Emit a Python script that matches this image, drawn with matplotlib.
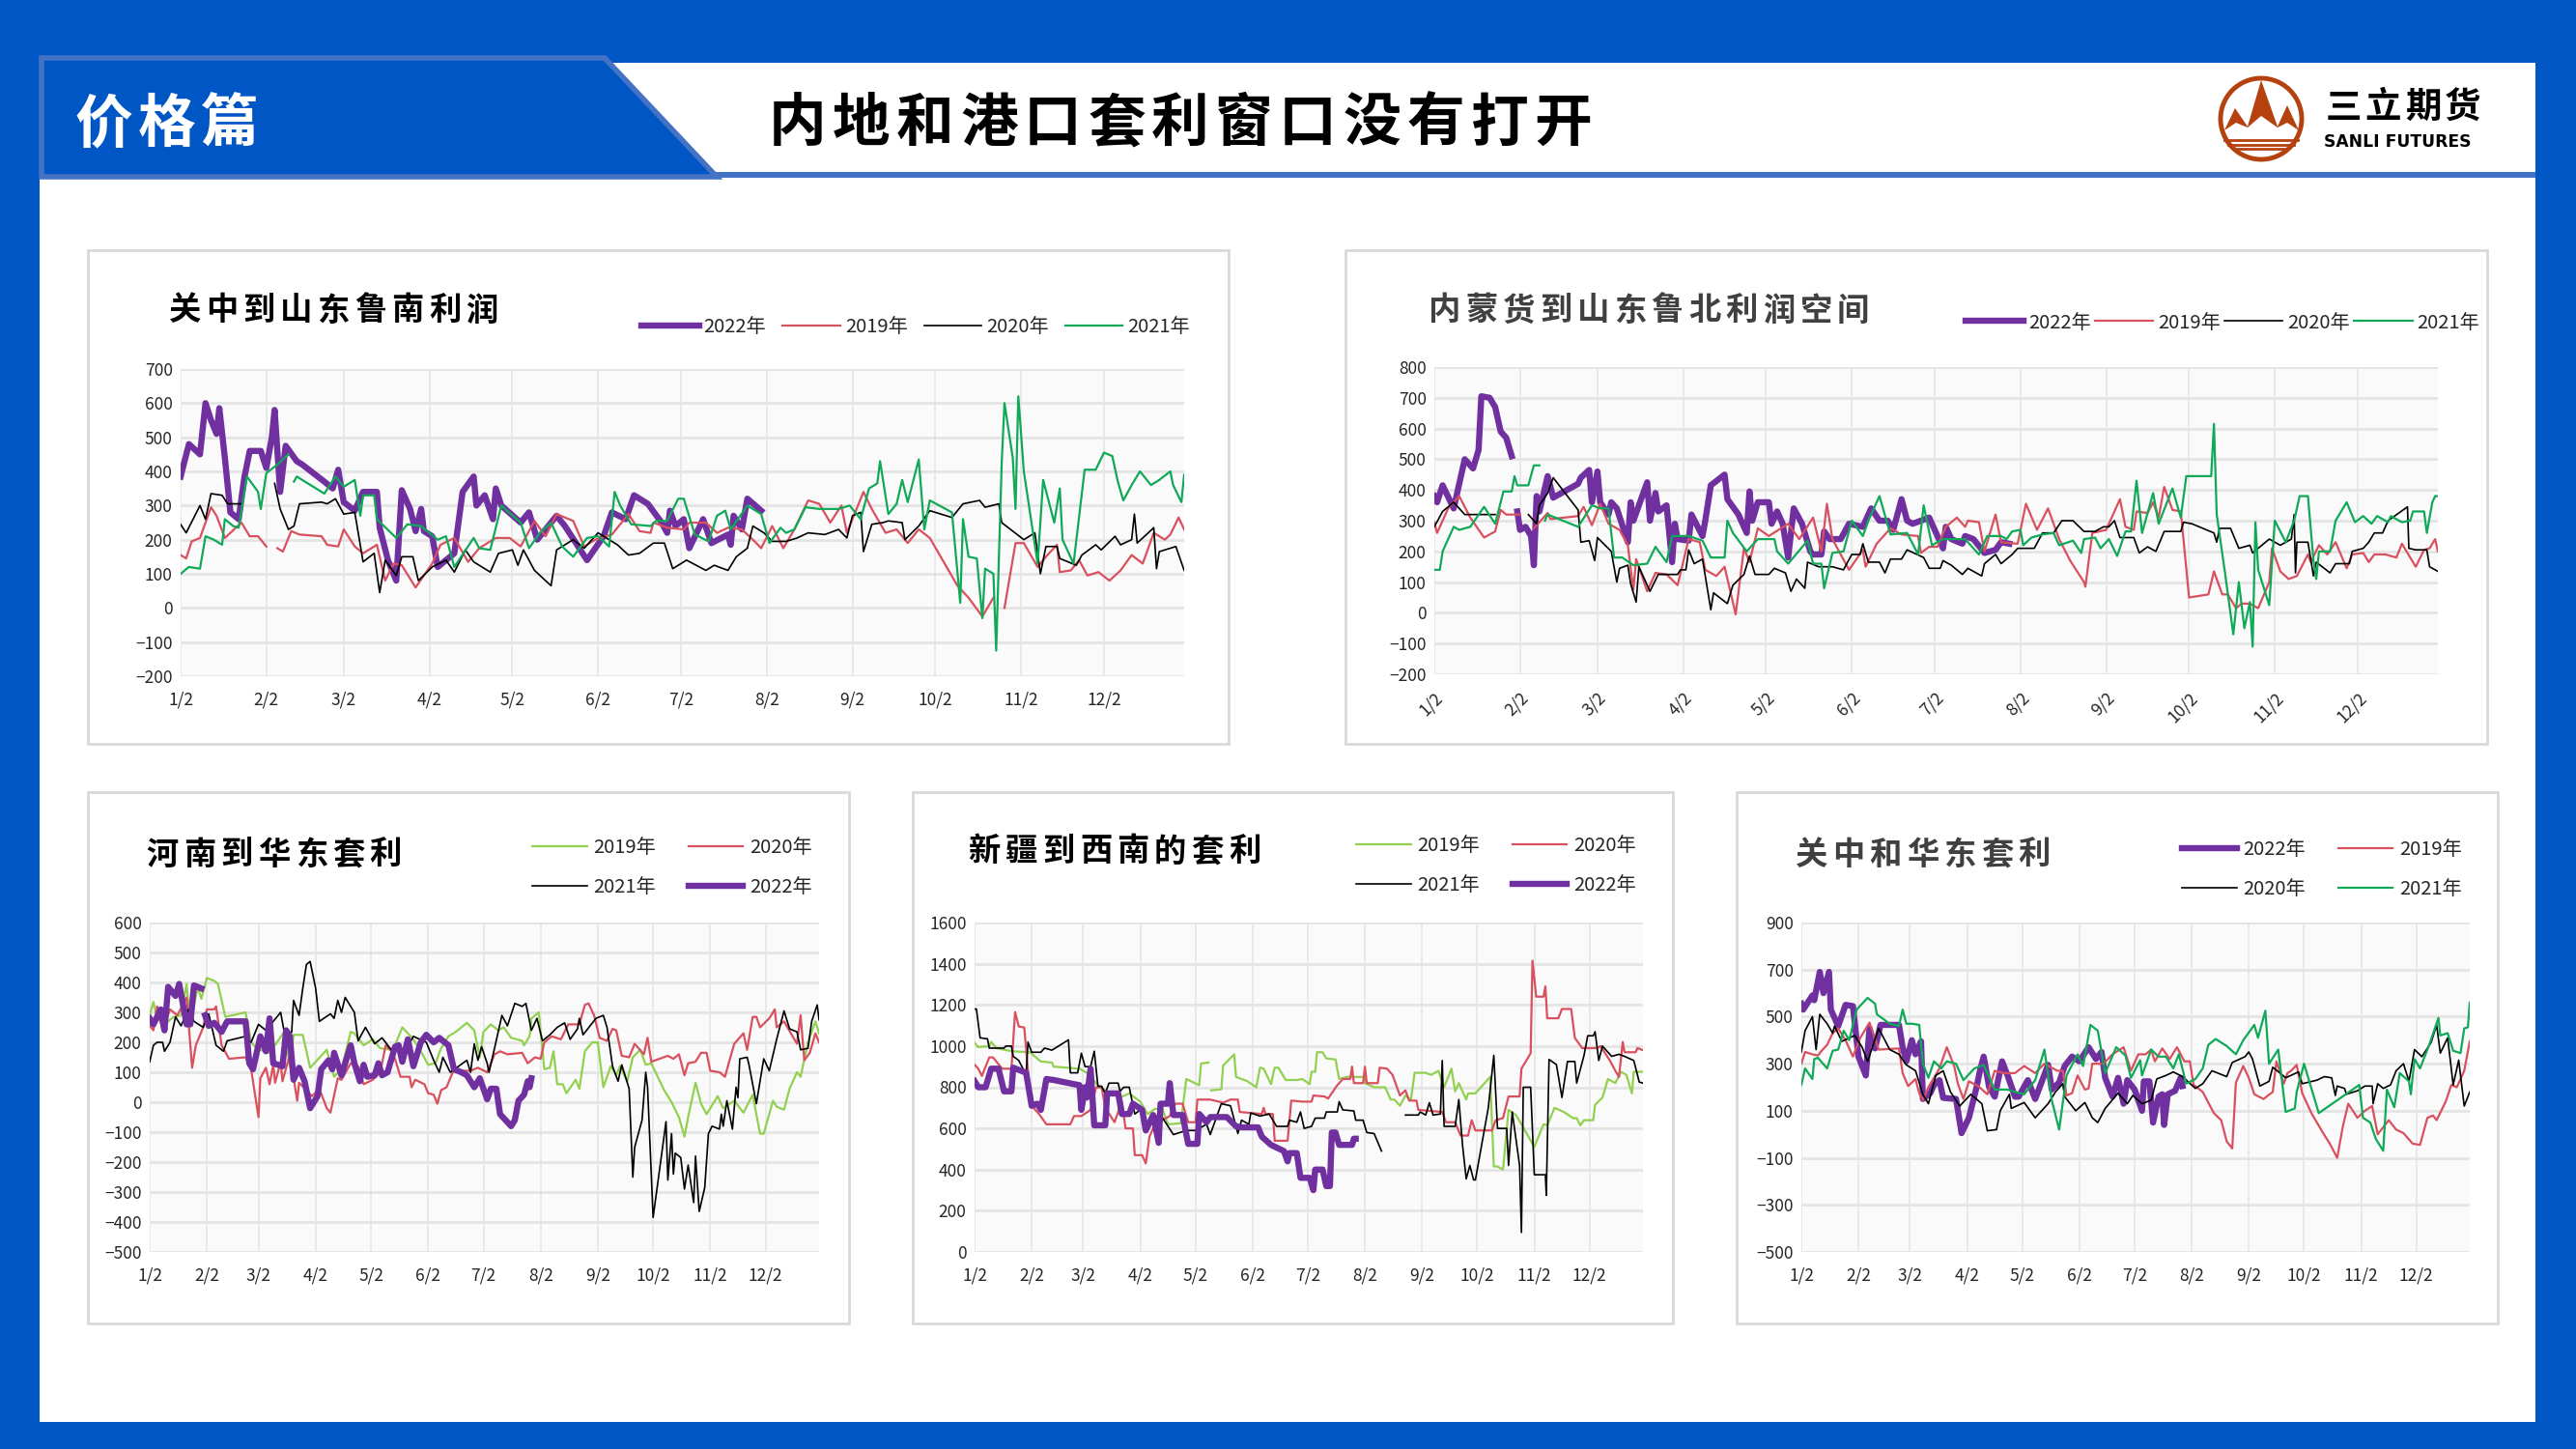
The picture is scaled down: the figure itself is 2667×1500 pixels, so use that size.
import numpy as np
import matplotlib
matplotlib.use("Agg")
import matplotlib.pyplot as plt
from matplotlib.patches import Rectangle, Polygon, Circle

plt.rcParams['font.family'] = ['Noto Sans CJK SC', 'DejaVu Sans']

nan = float('nan')
W, H = 2667, 1500

# month ticks, x is days after 1/2
tick_days = [0, 31, 59, 90, 120, 151, 181, 212, 243, 273, 304, 334]
tick_labels = ['1/2', '2/2', '3/2', '4/2', '5/2', '6/2', '7/2', '8/2', '9/2', '10/2', '11/2', '12/2']

# panel 1 - guanzhong to shandong
p1_2022 = [(0,385),(3,480),(7,450),(9,600),(11,550),(13,510),(14,585),(16,440),(18,280),(21,260),(23,380),(25,460),(29,460),(31,410),(33,500),(34,580),(36,340),(38,475),(42,430),(44,420),(52,370),(55,350),(57,405),(59,310),(63,285),(66,340),(71,340),(72,235),(75,140),(78,80),(80,345),(83,290),(85,225),(87,290),(88,225),(91,210),(93,120),(96,140),(99,160),(102,340),(106,385),(107,300),(110,330),(113,260),(114,350),(116,300),(123,250),(126,280),(129,200),(136,270),(139,240),(147,140),(153,210),(156,280),(161,260),(164,330),(169,305),(174,250),(176,220),(177,285),(179,240),(182,260),(184,175),(189,260),(192,190),(198,215),(199,185),(200,270),(203,230),(205,320),(210,285)]
p1_2019 = [(0,155),(2,145),(4,195),(7,205),(11,295),(13,270),(16,205),(22,250),(25,210),(28,210),(31,180),(33,nan),(35,175),(37,165),(40,225),(43,215),(51,210),(53,185),(57,180),(59,230),(63,180),(66,160),(71,185),(74,80),(77,130),(80,125),(85,60),(91,130),(94,185),(99,205),(104,135),(108,175),(114,205),(119,205),(123,180),(128,255),(132,210),(136,275),(142,255),(146,180),(150,200),(156,215),(162,275),(166,225),(170,220),(171,250),(176,235),(182,230),(184,250),(190,250),(194,220),(198,235),(203,230),(207,200),(210,175),(214,240),(218,175),(222,230),(227,315),(231,305),(235,250),(239,300),(241,220),(247,340),(250,290),(255,220),(259,230),(263,190),(267,230),(271,205),(281,65),(285,30),(290,-25),(294,30),(296,nan),(298,0),(302,190),(305,190),(310,120),(313,150),(317,185),(318,105),(322,110),(325,140),(328,95),(332,105),(336,80),(340,110),(344,155),(348,130),(352,220),(356,200),(358,215),(361,265),(363,230)]
p1_2020 = [(0,245),(2,220),(7,300),(9,260),(11,335),(15,330),(17,305),(22,305),(24,nan),(34,365),(36,290),(39,230),(41,240),(43,305),(51,310),(53,305),(56,320),(59,275),(63,280),(66,135),(70,160),(72,45),(74,140),(78,95),(80,150),(84,150),(86,80),(91,120),(96,140),(99,105),(103,170),(106,135),(112,105),(115,160),(120,170),(122,125),(124,170),(128,110),(134,65),(136,170),(142,200),(146,175),(151,220),(158,185),(162,155),(166,160),(171,190),(175,190),(178,115),(183,140),(190,110),(193,125),(198,110),(201,150),(205,175),(207,240),(211,220),(214,195),(219,195),(223,205),(227,220),(233,215),(238,230),(241,205),(243,270),(246,280),(247,165),(250,245),(254,250),(256,255),(261,250),(262,200),(267,240),(271,285),(279,265),(283,305),(289,315),(291,295),(296,305),(297,250),(305,200),(309,220),(311,100),(313,180),(317,180),(318,145),(324,125),(326,155),(331,185),(333,170),(338,210),(340,185),(344,200),(345,275),(346,190),(352,235),(353,115),(354,165),(360,180),(363,110)]
p1_2021 = [(0,100),(3,120),(7,115),(9,210),(12,200),(15,185),(16,260),(19,240),(21,235),(24,385),(28,340),(29,290),(31,395),(35,420),(39,450),(40,nan),(41,370),(42,385),(52,335),(56,385),(59,355),(63,375),(65,270),(66,330),(70,330),(71,260),(78,205),(82,245),(87,240),(93,200),(96,210),(99,120),(106,205),(108,175),(112,170),(116,300),(123,250),(126,175),(130,220),(134,250),(138,180),(142,150),(147,205),(151,210),(155,180),(157,340),(159,300),(163,245),(170,240),(172,255),(176,255),(180,320),(182,320),(186,215),(191,195),(194,270),(197,285),(199,230),(205,300),(210,275),(213,190),(217,235),(219,220),(222,230),(226,295),(231,290),(238,290),(242,300),(246,260),(249,350),(252,365),(253,430),(256,275),(259,305),(261,375),(263,310),(267,435),(269,230),(271,315),(279,280),(282,15),(283,260),(285,150),(288,145),(290,-30),(291,115),(294,100),(295,-125),(297,425),(298,600),(301,440),(302,290),(303,620),(305,400),(310,130),(312,375),(316,250),(318,350),(319,200),(323,130),(327,405),(331,405),(334,455),(337,445),(339,370),(341,315),(344,360),(347,400),(351,360),(354,375),(358,400),(359,360),(362,310),(363,390)]

# panel 2 - inner mongolia to shandong
p2_2022 = [(0,380),(1,360),(3,415),(7,340),(11,500),(14,470),(16,530),(17,705),(20,700),(22,670),(24,590),(26,570),(28,510),(29,nan),(30,330),(31,270),(33,280),(35,250),(36,155),(37,380),(38,330),(41,445),(43,375),(52,420),(53,440),(56,465),(57,360),(59,460),(60,360),(63,320),(64,360),(66,340),(70,230),(71,360),(72,300),(77,425),(78,300),(80,390),(81,330),(84,350),(86,165),(87,290),(88,240),(92,235),(93,320),(97,250),(98,300),(100,415),(105,450),(106,370),(110,320),(113,260),(114,395),(115,300),(117,360),(121,360),(122,290),(124,330),(126,290),(128,180),(130,340),(133,290),(136,200),(137,190),(140,190),(141,265),(143,240),(147,240),(150,290),(155,280),(158,340),(161,300),(164,300),(166,270),(169,370),(171,300),(173,290),(179,310),(181,270),(184,210),(185,280),(187,240),(191,225),(192,250),(195,240),(199,195),(203,205),(205,230),(208,225)]
p2_2019 = [(0,295),(1,260),(5,340),(9,380),(13,310),(18,245),(22,265),(24,335),(26,320),(31,320),(33,nan),(36,275),(41,325),(42,305),(52,315),(54,345),(57,285),(60,355),(63,290),(67,270),(70,220),(72,75),(73,175),(77,70),(80,130),(84,125),(88,90),(92,240),(96,230),(98,140),(102,120),(105,150),(109,-5),(112,210),(114,165),(117,275),(121,250),(128,290),(132,240),(137,310),(140,200),(142,355),(144,240),(150,140),(155,205),(156,150),(160,225),(165,275),(169,255),(175,250),(176,195),(179,215),(182,215),(185,280),(189,310),(192,280),(193,300),(197,295),(199,200),(203,320),(205,230),(211,225),(214,355),(218,270),(222,340),(226,240),(230,170),(235,100),(235.5,85),(238,260),(243,270),(248,370),(250,280),(253,270),(254,330),(258,325),(260,360),(262,310),(264,410),(267,335),(270,330),(273,50),(280,60),(282,135),(285,60),(287,60),(290,15),(292,30),(295,30),(298,15),(302,100),(303,210),(306,135),(309,110),(312,120),(316,190),(317,165),(320,220),(323,190),(326,230),(330,145),(332,190),(336,195),(338,165),(340,190),(344,190),(348,180),(350,225),(355,150),(358,205),(360,210),(362,240),(363,200)]
p2_2020 = [(0,280),(3,330),(7,360),(11,320),(22,320),(24,nan),(34,320),(37,290),(38,350),(41,390),(43,440),(52,335),(53,230),(56,235),(58,170),(59,245),(64,200),(66,100),(67,145),(70,155),(71,95),(73,35),(74,150),(78,70),(81,125),(88,125),(89,140),(91,140),(92,205),(94,160),(97,175),(100,10),(101,65),(106,30),(108,90),(112,125),(114,185),(116,125),(121,125),(123,145),(127,130),(129,70),(131,110),(134,80),(135,165),(139,150),(141,150),(144,150),(148,140),(151,190),(154,190),(155,225),(157,165),(161,165),(163,130),(165,175),(169,175),(171,205),(177,180),(179,145),(183,145),(184,170),(187,155),(191,125),(193,145),(198,120),(199,160),(203,190),(205,160),(209,190),(211,210),(217,210),(220,260),(224,260),(227,300),(231,300),(235,265),(239,265),(242,280),(244,280),(246,300),(248,245),(253,245),(255,195),(258,215),(261,200),(264,265),(270,265),(271,295),(274,290),(282,260),(283,230),(284,275),(288,275),(291,210),(295,220),(296,195),(302,240),(306,220),(310,240),(311,320),(311.5,130),(312,230),(316,230),(318,120),(319,165),(324,130),(326,160),(331,160),(332,200),(336,210),(338,230),(340,260),(343,260),(345,300),(352,345),(352.5,210),(355,205),(359,205),(360,150),(363,135)]
p2_2021 = [(0,140),(2,140),(3,200),(7,280),(9,270),(13,280),(18,345),(22,290),(25,395),(28,395),(29,445),(30,415),(34,415),(36,480),(38,480),(39,nan),(40,300),(41,320),(52,280),(57,350),(60,340),(63,340),(65,180),(68,180),(72,155),(77,160),(80,215),(84,165),(86,250),(92,250),(97,235),(100,180),(105,180),(106,300),(108,260),(113,200),(117,240),(123,240),(124,200),(128,160),(135,235),(137,160),(140,160),(141,80),(144,195),(148,200),(151,300),(155,250),(157,300),(161,380),(165,255),(171,260),(175,190),(177,350),(180,220),(184,240),(192,240),(197,190),(200,250),(205,250),(207,240),(209,265),(212,270),(213,220),(216,245),(220,255),(224,260),(226,220),(231,235),(234,195),(235,240),(239,245),(241,210),(244,240),(247,185),(250,265),(252,265),(254,430),(256,260),(260,390),(262,290),(267,405),(270,310),(272,445),(281,445),(282,615),(283,320),(286,130),(289,-70),(291,100),(293,-50),(295,35),(296,-110),(297,295),(298,140),(302,25),(304,300),(308,230),(311,300),(313,380),(316,380),(318,170),(319,110),(320,200),(324,200),(326,300),(330,360),(333,295),(336,315),(339,290),(341,315),(345,295),(346,315),(350,295),(353,300),(354,330),(358,330),(359,260),(361,360),(362,380),(363,380)]

# panel 3 - henan to east china
p3_2019 = [(0,290),(2,335),(4,280),(8,260),(13,285),(17,290),(20,395),(22,260),(26,385),(28,345),(31,415),(35,405),(37,395),(41,285),(52,300),(55,200),(58,180),(62,170),(65,165),(69,200),(73,235),(76,120),(78,225),(83,225),(87,115),(90,135),(96,175),(100,85),(104,110),(109,235),(111,230),(116,190),(121,210),(125,180),(132,175),(137,250),(143,210),(147,170),(151,125),(155,130),(158,180),(162,220),(166,235),(172,265),(176,240),(179,150),(181,235),(185,260),(189,240),(192,250),(196,215),(202,205),(203,190),(206,220),(207,280),(211,300),(214,110),(217,115),(219,170),(221,60),(224,60),(226,30),(231,75),(233,45),(236,170),(240,200),(243,200),(244,150),(246,50),(250,120),(253,90),(255,120),(259,70),(262,150),(266,175),(269,125),(272,130),(279,40),(283,0),(287,-50),(290,-115),(292,-50),(296,65),(299,-5),(302,-40),(308,20),(311,-20),(317,5),(322,-35),(327,25),(331,-105),(333,-105),(338,5),(340,-15),(344,-25),(347,45),(351,100),(353,85),(357,200),(361,270),(363,230)]
p3_2020 = [(0,255),(2,240),(4,320),(7,240),(11,310),(15,290),(20,350),(23,115),(25,190),(29,250),(31,310),(35,310),(36,320),(39,190),(43,145),(52,150),(55,110),(59,-50),(60,80),(63,115),(65,60),(67,125),(68,65),(71,135),(72,70),(76,160),(80,5),(81,65),(85,40),(88,20),(92,45),(96,-20),(98,-35),(102,80),(104,75),(109,130),(113,120),(116,60),(121,75),(125,100),(128,190),(132,165),(136,85),(141,85),(142,50),(144,75),(149,60),(151,30),(154,25),(156,-5),(158,40),(161,50),(165,110),(169,105),(174,105),(178,115),(183,100),(187,160),(190,170),(194,160),(202,165),(205,130),(209,150),(212,145),(214,200),(218,220),(223,210),(227,260),(233,260),(236,325),(238,330),(241,290),(244,215),(248,205),(251,245),(253,240),(256,155),(260,150),(263,195),(268,160),(270,215),(272,135),(281,155),(284,145),(287,160),(290,90),(292,130),(296,135),(299,165),(302,165),(304,105),(309,100),(312,85),(314,130),(317,195),(322,230),(324,175),(327,285),(329,285),(331,250),(336,280),(339,310),(340,250),(344,270),(351,195),(353,290),(355,140),(358,165),(361,230),(363,200)]
p3_2021 = [(0,135),(2,190),(4,200),(7,200),(8,170),(11,200),(14,285),(17,255),(21,310),(24,270),(29,250),(32,295),(36,190),(40,170),(42,205),(52,220),(55,200),(59,260),(63,240),(67,270),(71,300),(74,200),(77,235),(78,340),(81,290),(83,380),(85,460),(87,470),(90,380),(92,270),(98,295),(100,280),(102,340),(104,300),(106,350),(111,300),(113,205),(117,250),(122,195),(126,215),(131,175),(139,175),(143,220),(150,200),(154,140),(157,100),(159,150),(163,100),(172,140),(174,100),(176,195),(178,140),(180,185),(183,130),(184,100),(187,180),(191,290),(194,255),(198,330),(202,320),(204,330),(207,240),(210,280),(213,205),(217,225),(221,250),(225,265),(228,210),(232,245),(233,280),(235,225),(242,280),(246,290),(248,250),(251,120),(254,70),(256,125),(260,45),(262,-250),(263,-150),(267,-60),(269,100),(270,50),(273,-385),(280,-65),(281,-260),(283,-105),(284,-240),(285,-170),(288,-185),(290,-290),(292,-210),(295,-335),(296,-180),(298,-365),(301,-285),(303,-105),(305,-80),(309,-90),(310,-40),(311,-80),(313,5),(316,-90),(318,50),(319,15),(320,145),(324,150),(325,125),(329,-5),(333,145),(336,105),(340,210),(344,305),(347,245),(351,235),(353,175),(357,180),(359,270),(362,325),(363,275)]
p3_2022 = [(0,280),(2,260),(6,310),(8,240),(10,385),(14,355),(16,395),(20,260),(22,260),(24,390),(28,380),(29,nan),(30,290),(32,255),(35,265),(39,235),(42,270),(52,270),(54,130),(56,110),(60,220),(63,170),(65,280),(67,130),(72,120),(74,240),(76,220),(78,75),(81,115),(84,70),(87,-20),(91,20),(93,110),(97,140),(99,110),(100,165),(104,90),(109,190),(111,130),(114,70),(116,125),(118,85),(122,90),(124,130),(126,90),(129,100),(133,185),(135,190),(137,135),(140,210),(143,120),(147,200),(150,225),(154,200),(157,215),(162,190),(165,110),(169,100),(172,90),(176,50),(179,80),(183,10),(185,45),(188,45),(190,-40),(196,-80),(198,-60),(200,5),(203,25),(205,70),(206,50),(207,80)]

# panel 4 - xinjiang to southwest
p4_2019 = [(0,1015),(2,995),(8,1000),(9,1020),(12,990),(20,975),(30,970),(36,925),(42,920),(43,900),(57,890),(61,870),(68,800),(72,780),(79,750),(84,770),(90,730),(94,670),(98,695),(102,695),(105,620),(112,625),(115,840),(122,810),(123,915),(127,920),(128,nan),(128.5,785),(134,790),(135,905),(141,960),(142,850),(148,830),(153,800),(155,895),(157,890),(161,815),(163,895),(165,895),(169,835),(175,835),(178,840),(182,815),(183,875),(185,875),(186,970),(189,970),(191,940),(196,935),(198,840),(202,850),(212,850),(212,820),(217,800),(223,800),(226,740),(228,740),(231,710),(234,760),(237,740),(239,870),(245,870),(248,860),(252,880),(255,800),(259,890),(261,780),(263,820),(267,740),(268,770),(272,770),(280,850),(282,415),(284,415),(287,400),(290,690),(294,665),(297,620),(304,510),(309,620),(311,615),(315,700),(320,680),(325,650),(327,650),(329,615),(331,640),(336,640),(337,715),(341,750),(344,840),(348,820),(351,875),(354,860),(357,770),(358,875),(363,875)]
p4_2020 = [(0,910),(2,890),(4,855),(8,945),(10,945),(15,890),(20,890),(22,1165),(24,1095),(27,1090),(29,880),(30,720),(35,670),(39,620),(52,620),(54,660),(58,660),(63,690),(66,800),(69,800),(71,700),(76,630),(80,730),(82,600),(86,600),(87,470),(91,470),(93,430),(95,560),(98,620),(106,660),(109,720),(113,720),(116,630),(120,630),(121,740),(128,740),(135,725),(139,740),(143,740),(144,680),(150,675),(156,670),(157,700),(158,670),(162,670),(163,540),(170,540),(172,735),(178,730),(183,730),(184,760),(190,755),(192,745),(197,810),(200,840),(204,840),(205,900),(206,820),(211,820),(212,900),(213,820),(219,820),(220,895),(224,890),(227,860),(231,760),(234,785),(236,735),(240,735),(241,690),(254,680),(256,630),(261,630),(264,565),(268,565),(270,640),(272,590),(281,590),(283,640),(287,650),(290,755),(296,755),(297,890),(302,965),(303,1415),(305,1240),(309,1240),(310,1290),(311,1135),(317,1135),(319,1180),(324,1180),(326,1040),(330,990),(338,990),(340,1000),(345,930),(348,880),(350,850),(352,1020),(353,970),(359,970),(360,990),(363,980)]
p4_2021 = [(0,1180),(1,1180),(3,1040),(7,1035),(8,990),(16,990),(17,1000),(20,1000),(21,950),(24,930),(28,860),(29,1020),(31,970),(36,970),(38,990),(42,980),(51,1030),(52,870),(56,870),(58,965),(60,900),(63,900),(65,975),(67,805),(69,805),(71,770),(73,820),(78,820),(79,780),(81,800),(84,800),(87,670),(90,690),(94,620),(98,625),(100,680),(104,625),(108,570),(115,590),(120,590),(126,620),(128,570),(134,720),(139,710),(143,575),(145,640),(149,620),(150,675),(155,660),(160,670),(164,610),(170,610),(171,640),(175,630),(177,680),(179,600),(183,610),(185,650),(190,650),(191,680),(197,680),(198,730),(200,690),(206,685),(207,640),(211,640),(213,580),(217,575),(221,490),(222,nan),(234,665),(241,665),(242,680),(245,665),(247,725),(249,665),(253,670),(254,930),(255,610),(261,610),(263,740),(265,520),(267,355),(269,420),(271,350),(272,350),(279,700),(282,955),(284,600),(289,600),(290,420),(292,680),(294,550),(296,420),(297,95),(298,800),(302,800),(304,375),(310,375),(310.5,275),(312,935),(316,910),(319,750),(322,925),(326,925),(327,820),(331,955),(333,1050),(336,1050),(337,1070),(339,930),(341,1000),(344,970),(346,950),(350,960),(353,950),(358,930),(361,825),(363,820)]
p4_2022 = [(0,830),(2,800),(6,800),(9,890),(13,890),(16,780),(20,780),(21,895),(28,870),(31,710),(34,720),(36,690),(39,840),(43,835),(54,815),(57,810),(58,690),(60,800),(61,750),(63,890),(65,615),(71,615),(72,770),(78,770),(80,670),(84,670),(86,720),(91,690),(93,590),(97,665),(100,530),(101,720),(105,720),(106,820),(108,665),(113,665),(116,525),(121,525),(122,670),(126,630),(128,655),(137,655),(142,610),(145,605),(154,605),(156,560),(161,520),(168,490),(170,440),(171,480),(175,480),(177,360),(182,360),(184,300),(185,400),(189,400),(191,320),(193,320),(194,580),(196,580),(198,520),(205,520),(206,550),(207,550)]

# panel 5 - guanzhong and east china
p5_2022 = [(0,555),(1,530),(6,590),(7,570),(10,690),(12,600),(15,690),(16,530),(20,460),(24,550),(28,545),(31,330),(35,250),(37,450),(40,365),(43,465),(53,465),(55,370),(57,310),(60,400),(62,340),(65,395),(66,150),(70,175),(72,210),(75,230),(77,155),(84,150),(87,5),(91,70),(95,195),(97,270),(99,330),(102,200),(105,160),(109,310),(112,250),(116,160),(118,160),(123,230),(127,150),(134,295),(136,190),(140,220),(143,290),(147,330),(151,310),(156,370),(160,320),(163,350),(165,240),(169,160),(172,240),(175,130),(177,230),(181,190),(185,100),(186,225),(189,225),(191,50),(194,160),(196,170),(197,40),(199,170),(203,185),(206,240),(207,205)]
p5_2019 = [(0,300),(2,350),(6,340),(9,335),(11,355),(14,380),(17,430),(20,450),(24,400),(28,330),(32,410),(37,475),(42,360),(53,365),(55,260),(58,205),(62,235),(64,175),(66,145),(69,200),(75,280),(79,370),(83,290),(85,215),(88,150),(91,225),(96,205),(101,170),(105,270),(110,260),(116,260),(121,290),(127,260),(132,300),(139,270),(142,270),(144,165),(147,175),(150,250),(154,190),(156,195),(158,300),(164,300),(169,340),(175,370),(179,270),(183,340),(187,340),(190,360),(192,310),(196,365),(200,320),(204,370),(208,310),(211,310),(213,210),(218,180),(224,90),(228,60),(231,-30),(234,-60),(236,220),(240,290),(243,240),(246,170),(251,150),(256,180),(258,310),(262,215),(264,260),(266,270),(269,295),(272,175),(277,90),(283,10),(287,-40),(291,-100),(294,30),(297,130),(302,70),(306,100),(310,120),(313,0),(319,60),(323,20),(327,5),(332,-40),(336,-45),(340,70),(343,80),(345,60),(350,140),(353,210),(356,200),(360,270),(363,395)]
p5_2020 = [(0,350),(2,440),(6,500),(8,360),(10,510),(14,470),(17,430),(18,460),(22,395),(29,420),(33,370),(36,310),(42,450),(48,360),(53,340),(57,295),(62,270),(66,170),(69,130),(73,250),(77,270),(81,180),(86,120),(92,170),(98,130),(101,15),(106,20),(108,100),(113,170),(114,110),(121,135),(127,70),(134,130),(138,180),(142,215),(143,160),(149,100),(154,135),(158,70),(161,50),(165,110),(172,175),(177,130),(180,165),(185,130),(190,145),(193,235),(198,250),(202,265),(207,245),(214,195),(218,215),(223,270),(231,245),(234,305),(241,330),(243,350),(245,320),(249,205),(254,225),(256,285),(260,260),(263,240),(270,265),(272,215),(280,230),(284,245),(288,240),(290,165),(291,205),(295,195),(296,170),(302,185),(306,205),(310,205),(310.5,130),(313,215),(316,195),(320,210),(323,270),(327,300),(330,225),(333,360),(337,330),(342,390),(345,465),(347,345),(351,410),(354,210),(357,315),(360,120),(363,180)]
p5_2021 = [(0,210),(2,280),(6,235),(7,320),(9,325),(14,280),(17,355),(20,360),(23,440),(26,400),(30,530),(36,580),(40,555),(41,510),(48,470),(53,460),(55,530),(57,470),(60,470),(64,465),(66,300),(69,240),(72,310),(76,280),(79,310),(84,300),(88,230),(94,280),(99,295),(105,190),(112,190),(116,180),(121,170),(127,230),(132,360),(136,145),(140,20),(144,250),(150,340),(153,290),(157,465),(161,440),(165,260),(171,370),(176,335),(179,240),(184,315),(185,250),(190,360),(194,330),(198,330),(202,280),(205,340),(209,215),(214,235),(218,280),(221,380),(225,405),(231,375),(236,340),(240,400),(246,465),(248,410),(252,525),(254,300),(259,360),(263,95),(268,110),(269,180),(273,300),(281,90),(303,210),(305,70),(309,50),(312,-20),(316,-70),(318,190),(322,115),(325,260),(330,225),(331,170),(333,320),(336,280),(341,380),(346,495),(347,420),(351,430),(354,355),(358,345),(360,450),(362,455),(363,560)]

PURPLE = '#7030A0'
RED = '#D9505F'
BLACK = '#000000'
GREEN = '#0FA958'
LIME = '#92D050'
BLUE = '#0056C5'
EDGE = '#4472C4'

fig = plt.figure(figsize=(W / 100, H / 100), dpi=100, facecolor=BLUE)
bg = fig.add_axes([0, 0, 1, 1])
bg.set_xlim(0, W)
bg.set_ylim(H, 0)
bg.axis('off')


def spaced(x, y, txt, pitch, size, color='black', weight='bold'):
    # CJK titles in the slide are letter spaced
    for i, ch in enumerate(txt):
        bg.text(x + pitch * (i + 0.5), y, ch, ha='center', va='center', fontsize=size, color=color, fontweight=weight)


def panel(box, area, yrange, ystep, series, title, title_pos, title_color, leg_pos, leg_opts, rotate=False):
    bg.add_patch(Rectangle((box[0], box[1]), box[2] - box[0], box[3] - box[1], fc='white', ec='#D9D9D9', lw=2))
    ax = fig.add_axes([area[0] / W, 1 - area[3] / H, (area[2] - area[0]) / W, (area[3] - area[1]) / H])
    ax.set_facecolor('#FAFAFA')
    lines = {}
    for label, data, color, lw in series:
        arr = np.array(data, dtype=float)
        lines[label], = ax.plot(arr[:, 0], arr[:, 1], color=color, lw=lw, label=label, solid_joinstyle='round')
    ax.set_xlim(0, 363)
    ax.set_ylim(*yrange)
    ax.set_yticks(np.arange(yrange[0], yrange[1] + 1, ystep))
    ax.set_xticks(tick_days)
    if rotate:
        ax.set_xticklabels(tick_labels, rotation=45, ha='right', rotation_mode='anchor')
    else:
        ax.set_xticklabels(tick_labels)
    ax.tick_params(length=0, labelsize=12.5, labelcolor='#262626')
    ax.tick_params(axis='x', pad=11)
    ax.tick_params(axis='y', pad=6)
    ax.grid(axis='y', color='#E4E4E4', lw=2)
    ax.grid(axis='x', color='#E4E4E4', lw=1.1)
    ax.set_axisbelow(True)
    for s in ax.spines.values():
        s.set_visible(False)
    spaced(title_pos[0], title_pos[1], title, 38.5, 24, color=title_color)
    order = leg_opts.pop('order')
    leg = ax.legend([lines[k] for k in order], order, loc='center', bbox_to_anchor=leg_pos, bbox_transform=bg.transData,
                    frameon=False, fontsize=14.5, borderpad=0, borderaxespad=0, **leg_opts)
    for t in leg.get_texts():
        t.set_color('#262626')


# slide frame
bg.add_patch(Rectangle((41, 65), 2584, 1407, fc='white', ec='none'))
bg.add_patch(Rectangle((740, 178), 1885, 6, fc=EDGE, ec='none'))
bg.add_patch(Polygon([(43, 60), (626, 60), (742, 183), (43, 183)], fc=BLUE, ec=EDGE, lw=4, joinstyle='miter'))
spaced(75, 130, '价格篇', 65, 43, color='white')
spaced(793, 129, '内地和港口套利窗口没有打开', 66, 43)

# logo
LOGO = '#B5410F'
bg.add_patch(Circle((2341, 123), 42, fc='white', ec=LOGO, lw=3.5))
bg.add_patch(Polygon([(2303, 135), (2314, 112), (2327, 131), (2341, 83), (2358, 131), (2368, 109), (2380, 135),
                      (2368, 127), (2358, 132), (2341, 120), (2327, 132), (2315, 127)], fc=LOGO, ec='none'))
bg.plot([2303, 2379], [145, 145], color=LOGO, lw=2)
bg.plot([2307, 2375], [149.5, 149.5], color=LOGO, lw=2)
bg.plot([2314, 2368], [154, 154], color=LOGO, lw=2)
spaced(2406, 111, '三立期货', 41, 27)
bg.text(2406, 147, 'SANLI FUTURES', ha='left', va='center', fontsize=12.3, fontweight='bold', family='DejaVu Sans')

THICK = 4.6
one_row = dict(ncol=4, handlelength=2.95, handletextpad=0.25, columnspacing=0.85)
panel((91, 259, 1272, 770), (187, 382, 1226, 700), (-200, 700), 100,
      [('2022年', p1_2022, PURPLE, THICK), ('2019年', p1_2019, RED, 1.6), ('2020年', p1_2020, BLACK, 1.2), ('2021年', p1_2021, GREEN, 1.6)],
      '关中到山东鲁南利润', (172, 322), 'black', (948, 339),
      dict(order=['2022年', '2019年', '2020年', '2021年'], **one_row))
panel((1393, 259, 2575, 770), (1485, 380, 2524, 698), (-200, 800), 100,
      [('2022年', p2_2022, PURPLE, THICK), ('2019年', p2_2019, RED, 1.6), ('2020年', p2_2020, BLACK, 1.2), ('2021年', p2_2021, GREEN, 1.6)],
      '内蒙货到山东鲁北利润空间', (1476, 322), '#404040', (2301, 334),
      dict(order=['2022年', '2019年', '2020年', '2021年'], ncol=4, handlelength=3.0, handletextpad=0.25, columnspacing=0.2), rotate=True)

two_rows = dict(ncol=2, handlelength=2.8, handletextpad=0.35, columnspacing=1.65, labelspacing=0.95)
panel((91, 820, 879, 1370), (155, 955, 848, 1296), (-500, 600), 100,
      [('2019年', p3_2019, LIME, 1.6), ('2020年', p3_2020, RED, 1.6), ('2021年', p3_2021, BLACK, 1.2), ('2022年', p3_2022, PURPLE, THICK)],
      '河南到华东套利', (149, 885), 'black', (696, 898),
      dict(order=['2019年', '2021年', '2020年', '2022年'], **two_rows))
panel((945, 820, 1732, 1370), (1009, 955, 1701, 1296), (0, 1600), 200,
      [('2019年', p4_2019, LIME, 1.6), ('2020年', p4_2020, RED, 1.6), ('2021年', p4_2021, BLACK, 1.2), ('2022年', p4_2022, PURPLE, THICK)],
      '新疆到西南的套利', (1000, 882), 'black', (1549, 896),
      dict(order=['2019年', '2021年', '2020年', '2022年'], **two_rows))
panel((1798, 820, 2586, 1370), (1865, 955, 2557, 1296), (-500, 900), 200,
      [('2022年', p5_2022, PURPLE, THICK), ('2019年', p5_2019, RED, 1.6), ('2020年', p5_2020, BLACK, 1.2), ('2021年', p5_2021, GREEN, 1.6)],
      '关中和华东套利', (1856, 885), '#404040', (2404, 900),
      dict(order=['2022年', '2020年', '2019年', '2021年'], **two_rows))

fig.savefig('out.png', dpi=100, facecolor=BLUE)
